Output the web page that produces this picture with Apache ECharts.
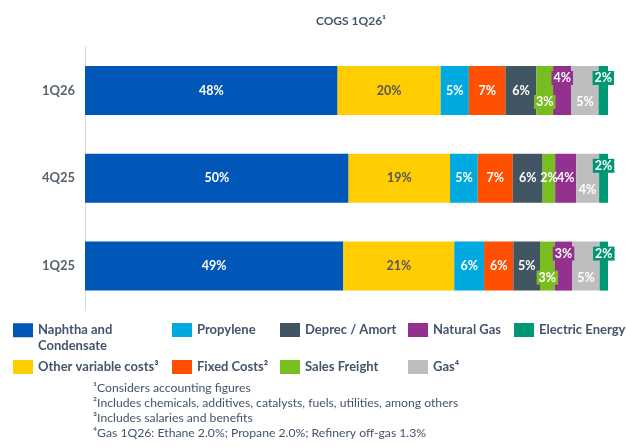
<!DOCTYPE html>
<html>
<head>
<meta charset="utf-8">
<script src="https://cdn.jsdelivr.net/npm/echarts@6/dist/echarts.min.js"></script>
<style>
html, body { margin: 0; padding: 0; background: #fff; }
#chart { width: 626px; height: 447px; }
</style>
</head>
<body>
<div id="chart"></div>
<script>
// share of COGS (%) per quarter
var quarters = ['1Q26', '4Q25', '1Q25'];
var naphtha = [48.3, 50.4, 49.4];
var otherVariable = [19.7, 19.4, 21.2];
var propylene = [5.4, 5.3, 5.7];
var fixedCosts = [7.0, 6.7, 5.6];
var deprec = [5.9, 5.7, 5.1];
var salesFreight = [3.2, 2.4, 2.8];
var naturalGas = [3.5, 4.0, 3.4];
var gas = [5.2, 4.4, 5.2];
var electric = [1.8, 1.7, 1.6];

var footnotes = [
    '¹Considers accounting figures',
    '²Includes chemicals, additives, catalysts, fuels, utilities, among others',
    '³Includes salaries and benefits',
    '⁴Gas 1Q26: Ethane 2.0%; Propane 2.0%; Refinery off-gas 1.3%'
];

var FONT = 'Lato';
var TXT = '#44546A';

var seriesDefs = [
    {key: 'naphtha', name: 'Naphtha and Condensate', color: '#0057B8', values: naphtha},
    {key: 'otherVariable', name: 'Other variable costs³', color: '#FFCD00', values: otherVariable, textColor: '#55565A'},
    {key: 'propylene', name: 'Propylene', color: '#00A9E0', values: propylene},
    {key: 'fixedCosts', name: 'Fixed Costs²', color: '#FE5000', values: fixedCosts},
    {key: 'deprec', name: 'Deprec / Amort', color: '#425563', values: deprec},
    {key: 'salesFreight', name: 'Sales Freight', color: '#78BE20', values: salesFreight},
    {key: 'naturalGas', name: 'Natural Gas', color: '#93328E', values: naturalGas},
    {key: 'gas', name: 'Gas⁴', color: '#BEBEBE', values: gas},
    {key: 'electric', name: 'Electric Energy', color: '#009775', values: electric}
];

// small slices: label pushed up / down as a coloured callout
var callouts = {
    salesFreight: ['down', '', 'down'],
    naturalGas: ['up', '', 'up'],
    gas: ['down', 'down', 'down'],
    electric: ['up', 'up', 'up']
};

// legend boxes: name, left, top
var legendSpots = [
    ['Naphtha and Condensate', 13, 307],
    ['Propylene', 172, 323],
    ['Deprec / Amort', 280, 323],
    ['Natural Gas', 408, 323],
    ['Electric Energy', 514, 323],
    ['Other variable costs³', 13, 360],
    ['Fixed Costs²', 172, 360],
    ['Sales Freight', 280, 360],
    ['Gas⁴', 408, 360]
];

var series = seriesDefs.map(function (d) {
    var rows = callouts[d.key] || [];
    return {
        name: d.name,
        type: 'bar',
        stack: 'cogs',
        barWidth: 49,
        itemStyle: {color: d.color},
        label: {
            show: true,
            position: 'inside',
            color: d.textColor || '#fff',
            fontFamily: FONT,
            fontWeight: 'bold',
            fontSize: 12.5,
            formatter: function (p) { return Math.round(p.value) + '%'; }
        },
        data: d.values.map(function (v, i) {
            var where = rows[i];
            if (!where) return v;
            return {
                value: v,
                label: {
                    offset: [0, where == 'up' ? -12.5 : 11.5],
                    backgroundColor: d.color,
                    padding: [1, 2, 0, 2]
                }
            };
        })
    };
});

var legends = legendSpots.map(function (s) {
    var lg = {
        data: [s[0]],
        left: s[1],
        top: s[2],
        padding: 0,
        icon: 'rect',
        itemWidth: 20,
        itemHeight: 14,
        itemGap: 0,
        selectedMode: false,
        textStyle: {fontFamily: FONT, fontWeight: 'bold', fontSize: 13, color: TXT}
    };
    if (s[0] == 'Naphtha and Condensate') {
        // blank first line keeps "Naphtha and" level with the swatch
        lg.formatter = '\nNaphtha and\nCondensate';
        lg.textStyle.lineHeight = 15.5;
    }
    return lg;
});

var myChart = echarts.init(document.getElementById('chart'));
myChart.setOption({
    animation: false,
    title: [
        {
            text: 'COGS 1Q26¹',
            left: 346,
            textAlign: 'center',
            top: 10,
            textStyle: {fontFamily: FONT, fontWeight: 'bold', fontSize: 12, color: TXT}
        },
        {
            text: footnotes.join('\n'),
            left: 93,
            top: 381,
            padding: 0,
            textStyle: {fontFamily: FONT, fontWeight: 'normal', fontSize: 12.2, lineHeight: 14.8, color: TXT}
        }
    ],
    legend: legends,
    grid: {left: 85, right: 18, top: 46.6, bottom: 137, containLabel: false},
    xAxis: {type: 'value', min: 0, max: 100, show: false},
    yAxis: {
        type: 'category',
        data: quarters,
        inverse: true,
        axisTick: {show: false},
        axisLine: {lineStyle: {color: '#D9D9D9', width: 1}},
        axisLabel: {margin: 10, fontFamily: FONT, fontWeight: 'bold', fontSize: 13, color: '#56626E'}
    },
    series: series
});
</script>
</body>
</html>
